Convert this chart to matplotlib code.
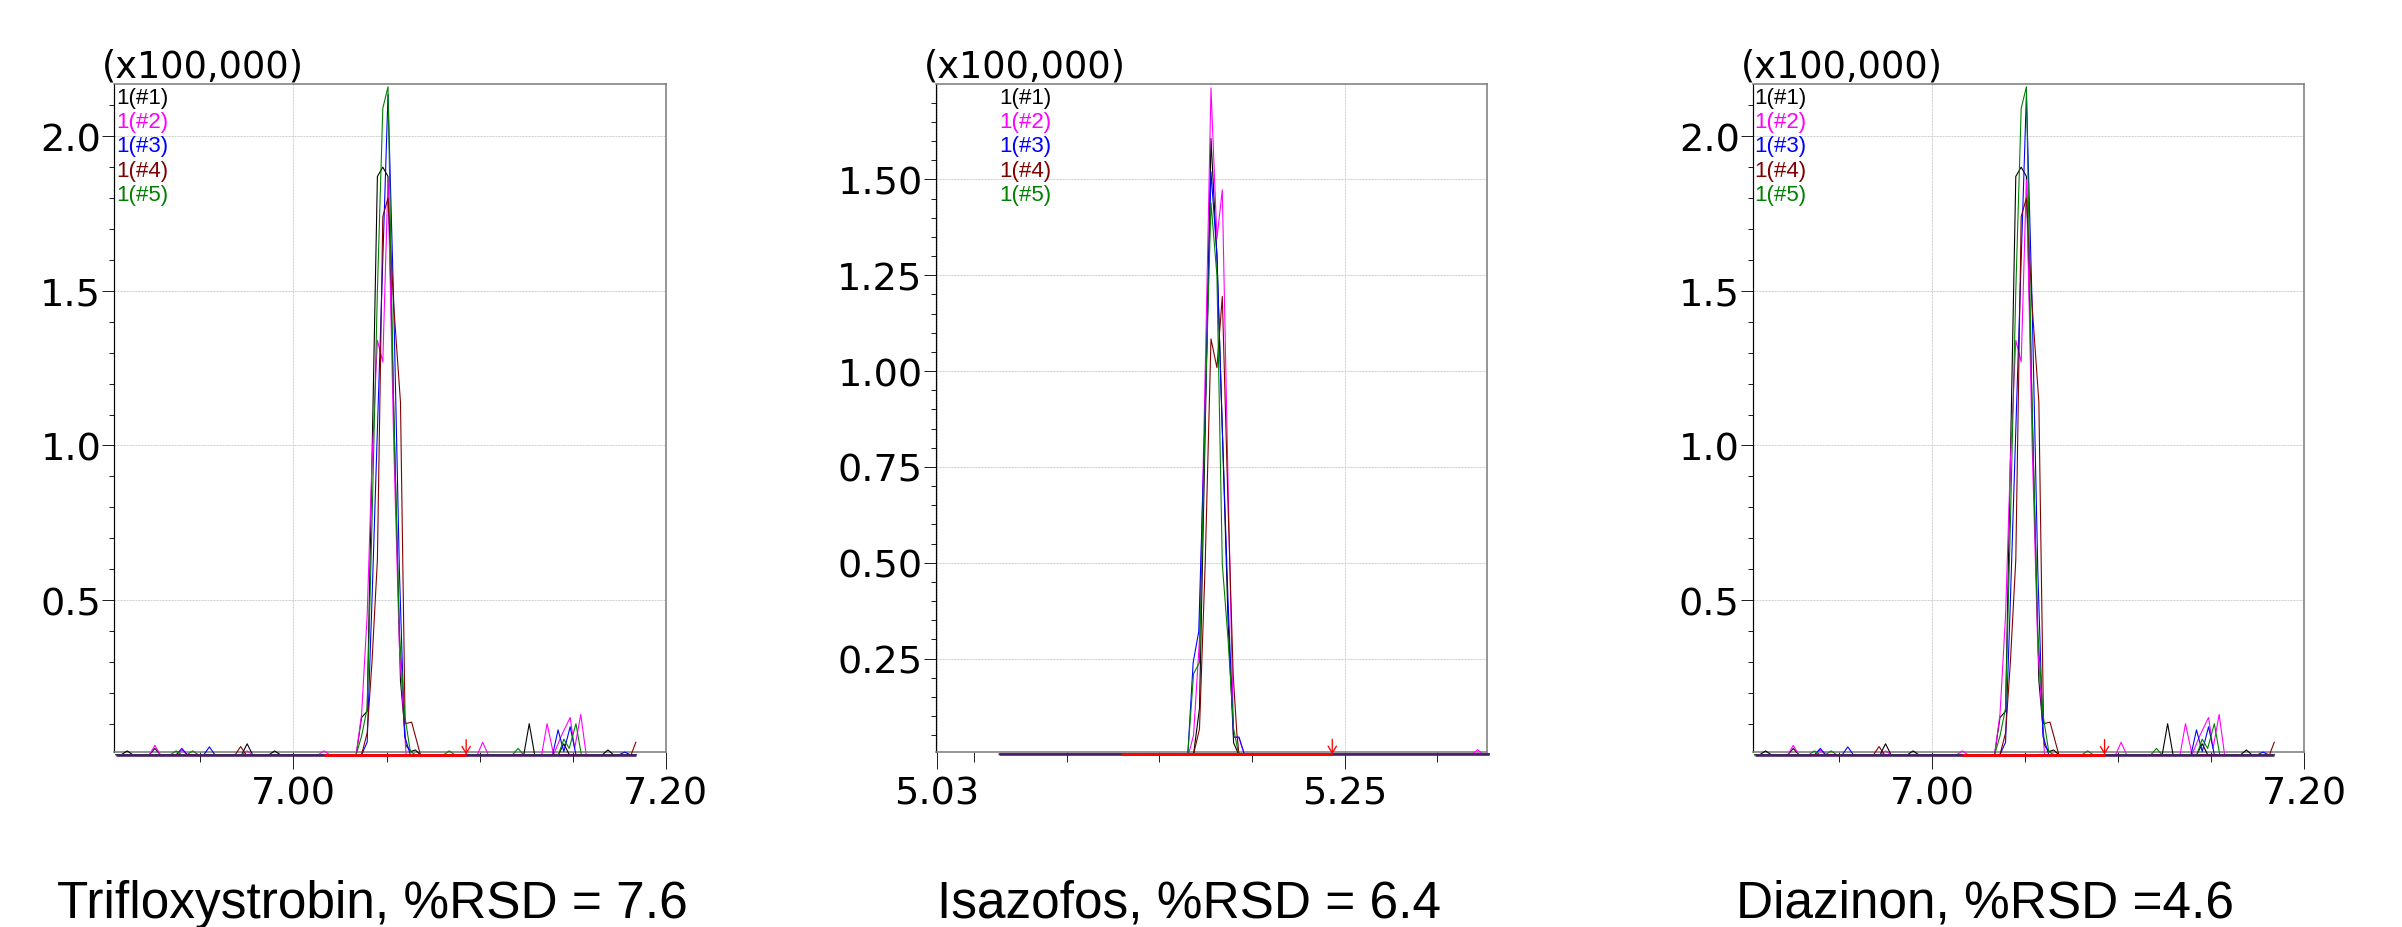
import matplotlib
matplotlib.use("Agg")
import matplotlib.pyplot as plt
import matplotlib.transforms as mtransforms
from matplotlib.ticker import FixedLocator, FixedFormatter

plt.rcParams["font.family"] = ["Liberation Sans", "DejaVu Sans"]

# ---- data (retention time in min, intensity in x100,000) ----
run_labels = ["1(#1)", "1(#2)", "1(#3)", "1(#4)", "1(#5)"]
run_colors = ["#000000", "#ff00ff", "#0000ff", "#800000", "#008000"]

# Trifloxystrobin (the Diazinon panel shows the very same traces)
tri_black_t = [6.9047, 6.9076, 6.9106, 6.9135, 6.9226, 6.9255, 6.9284, 6.9722, 6.9751, 6.9780,
               6.9870, 6.9899, 6.9928, 7.0337, 7.0366, 7.0396, 7.0451, 7.0480, 7.0508, 7.0575,
               7.0605, 7.0630, 7.0655, 7.0681, 7.1238, 7.1267, 7.1296, 7.1424, 7.1453, 7.1482,
               7.1661, 7.1690, 7.1719, 7.1840]
tri_black_v = [0, 0, 0.012, 0, 0, 0.02, 0, 0, 0.035, 0,
               0, 0.012, 0, 0, 0.12, 0.14, 1.87, 1.90, 1.87, 0.24,
               0.03, 0.01, 0.015, 0, 0, 0.10, 0, 0, 0.035, 0,
               0, 0.015, 0, 0]
tri_magenta_t = [6.9047, 6.9226, 6.9255, 6.9284, 6.9371, 6.9400, 6.9429, 6.9722, 6.9751, 6.9780,
                 7.0135, 7.0164, 7.0193, 7.0337, 7.0366, 7.0396, 7.0422, 7.0451, 7.0480, 7.0508,
                 7.0539, 7.0569, 7.0590, 7.0605, 7.0988, 7.1017, 7.1046, 7.1334, 7.1363, 7.1398,
                 7.1439, 7.1487, 7.1511, 7.1544, 7.1573, 7.1840]
tri_magenta_v = [0, 0, 0.03, 0, 0, 0.015, 0, 0, 0.012, 0,
                 0, 0.012, 0, 0, 0.13, 0.45, 0.95, 1.34, 1.27, 1.86,
                 1.0, 0.35, 0.15, 0, 0, 0.04, 0, 0, 0.10, 0,
                 0.06, 0.12, 0.02, 0.13, 0, 0]
tri_blue_t = [6.9047, 6.9371, 6.9400, 6.9429, 6.9519, 6.9548, 6.9577, 7.0366, 7.0396, 7.0422,
              7.0451, 7.0480, 7.0508, 7.0539, 7.0569, 7.0597, 7.0628, 7.1393, 7.1422, 7.1453,
              7.1487, 7.1518, 7.1751, 7.1780, 7.1809, 7.1840]
tri_blue_v = [0, 0, 0.02, 0, 0, 0.025, 0, 0, 0.04, 0.5,
              1.05, 1.6, 2.135, 1.45, 0.6, 0.06, 0, 0, 0.08, 0.01,
              0.09, 0, 0, 0.008, 0, 0]
tri_brown_t = [6.9047, 6.9687, 6.9716, 6.9745, 7.0366, 7.0396, 7.0422, 7.0451, 7.0480, 7.0508,
               7.0539, 7.0575, 7.0600, 7.0635, 7.0682, 7.1815, 7.1840]
tri_brown_v = [0, 0, 0.026, 0, 0, 0.07, 0.3, 0.63, 1.74, 1.80,
               1.45, 1.14, 0.10, 0.105, 0, 0, 0.04]
tri_green_t = [6.9047, 6.9340, 6.9369, 6.9398, 6.9429, 6.9458, 6.9487, 7.0337, 7.0366, 7.0396,
               7.0422, 7.0451, 7.0480, 7.0508, 7.0539, 7.0569, 7.0597, 7.0628, 7.0655, 7.0808,
               7.0837, 7.0866, 7.1178, 7.1207, 7.1236, 7.1424, 7.1453, 7.1482, 7.1518, 7.1547,
               7.1840]
tri_green_v = [0, 0, 0.012, 0, 0, 0.012, 0, 0, 0.06, 0.15,
               0.75, 1.5, 2.09, 2.16, 1.1, 0.4, 0.13, 0.01, 0, 0,
               0.012, 0, 0, 0.02, 0, 0, 0.05, 0.02, 0.10, 0,
               0]
tri_integration = [7.0164, 7.0928]

# Isazofos
iso_black_t = [5.0638, 5.1685, 5.1717, 5.1748, 5.1779, 5.1811, 5.1840, 5.1871, 5.1901, 5.1928, 5.3280]
iso_black_v = [0, 0, 0.12, 0.85, 1.607, 1.30, 0.85, 0.35, 0.03, 0, 0]
iso_magenta_t = [5.0638, 5.1658, 5.1685, 5.1717, 5.1748, 5.1779, 5.1811, 5.1840, 5.1871, 5.1901,
                 5.1930, 5.1959, 5.3188, 5.3217, 5.3246, 5.3280]
iso_magenta_v = [0, 0, 0.05, 0.3, 1.0, 1.739, 1.346, 1.473, 0.71, 0.045,
                 0.043, 0, 0, 0.012, 0, 0]
iso_blue_t = [5.0638, 5.1654, 5.1683, 5.1713, 5.1748, 5.1779, 5.1811, 5.1840, 5.1871, 5.1901,
              5.1930, 5.1959, 5.3280]
iso_blue_v = [0, 0, 0.24, 0.32, 0.9, 1.52, 1.305, 0.85, 0.4, 0.045,
              0.045, 0, 0]
iso_brown_t = [5.0638, 5.1685, 5.1717, 5.1748, 5.1779, 5.1811, 5.1840, 5.1871, 5.1899, 5.1918,
               5.1930, 5.3280]
iso_brown_v = [0, 0, 0.066, 0.5, 1.084, 1.009, 1.195, 0.65, 0.205, 0.058,
               0, 0]
iso_green_t = [5.0638, 5.1654, 5.1685, 5.1717, 5.1748, 5.1779, 5.1811, 5.1840, 5.1871, 5.1901,
               5.1928, 5.3280]
iso_green_v = [0, 0, 0.21, 0.24, 0.9, 1.439, 1.25, 0.497, 0.3, 0.067,
               0, 0]
iso_integration = [5.1296, 5.2433]

tri_traces = [(tri_black_t, tri_black_v), (tri_magenta_t, tri_magenta_v), (tri_blue_t, tri_blue_v),
              (tri_brown_t, tri_brown_v), (tri_green_t, tri_green_v)]
iso_traces = [(iso_black_t, iso_black_v), (iso_magenta_t, iso_magenta_v), (iso_blue_t, iso_blue_v),
              (iso_brown_t, iso_brown_v), (iso_green_t, iso_green_v)]

tri_xticks, tri_xlabels, tri_xminor = [7.00, 7.20], ["7.00", "7.20"], [6.95, 7.05, 7.10, 7.15]
tri_yticks, tri_ylabels = [0.5, 1.0, 1.5, 2.0], ["0.5", "1.0", "1.5", "2.0"]
tri_yminor = [0.1, 0.2, 0.3, 0.4, 0.6, 0.7, 0.8, 0.9, 1.1, 1.2, 1.3, 1.4, 1.6, 1.7, 1.8, 1.9, 2.1]
iso_xticks, iso_xlabels, iso_xminor = [5.03, 5.25], ["5.03", "5.25"], [5.05, 5.10, 5.15, 5.20, 5.30]
iso_yticks = [0.25, 0.50, 0.75, 1.00, 1.25, 1.50]
iso_ylabels = ["0.25", "0.50", "0.75", "1.00", "1.25", "1.50"]
iso_yminor = [0.05, 0.10, 0.15, 0.20, 0.30, 0.35, 0.40, 0.45, 0.55, 0.60, 0.65, 0.70,
              0.80, 0.85, 0.90, 0.95, 1.05, 1.10, 1.15, 1.20, 1.30, 1.35, 1.40, 1.45, 1.55,
              1.60, 1.65, 1.70]

titles = ["Trifloxystrobin, %RSD = 7.6", "Isazofos, %RSD = 6.4", "Diazinon, %RSD =4.6"]

# ---- layout (pixels of the 2402x928 canvas) ----
W, H, DPI = 2402, 928, 100
PX = 72 / DPI  # points per pixel
AX_TOP, AX_BOT, AX_W = 85.3, 752.7, 551.5
AX_LEFTS = [114.3, 935.6, 1752.7]
TITLE_X = [57, 937, 1736]
# the chromatogram lettering is a bit wider than Arial, DejaVu matches its extents
CHROM_FONT = "DejaVu Sans"

fig = plt.figure(figsize=(W / DPI, H / DPI), dpi=DPI)


def draw_panel(ax, traces, integ, xlim, ylim, xt, xl, xm, yt, yl, ym):
    for (t, v), c in zip(traces, run_colors):
        ax.plot(t, v, color=c, lw=1.1 * PX, clip_on=False, zorder=3)
    t0 = min(t[0] for t, _ in traces)
    t1 = max(t[-1] for t, _ in traces)
    # merged baseline of all runs and the red integration baseline
    ax.plot([t0, t1], [0, 0], color="#4b1a6e", lw=2.6 * PX, clip_on=False,
            zorder=4, solid_capstyle="butt")
    ax.plot(integ, [0, 0], color="#ff0000", lw=2.8 * PX, clip_on=False,
            zorder=5, solid_capstyle="butt")
    ax.annotate("", xy=(integ[1], 0), xytext=(0, 15), textcoords="offset pixels",
                arrowprops=dict(arrowstyle="->,head_length=0.5,head_width=0.3",
                                color="#ff0000", lw=1.3 * PX, shrinkA=0, shrinkB=0),
                annotation_clip=False, zorder=6)

    ax.set_xlim(*xlim)
    ax.set_ylim(*ylim)
    ax.xaxis.set_major_locator(FixedLocator(xt))
    ax.xaxis.set_major_formatter(FixedFormatter(xl))
    ax.xaxis.set_minor_locator(FixedLocator(xm))
    ax.yaxis.set_major_locator(FixedLocator(yt))
    ax.yaxis.set_major_formatter(FixedFormatter(yl))
    ax.yaxis.set_minor_locator(FixedLocator(ym))
    ax.tick_params(axis="x", which="major", direction="out", length=17 * PX, width=1 * PX,
                   pad=7 * PX, labelsize=27.5, color="#222222")
    ax.tick_params(axis="x", which="minor", direction="out", length=10 * PX, width=1 * PX,
                   color="#222222")
    ax.tick_params(axis="y", which="major", direction="out", length=12 * PX, width=1 * PX,
                   pad=1 * PX, labelsize=27.5, color="#222222")
    ax.tick_params(axis="y", which="minor", direction="out", length=5 * PX, width=1 * PX,
                   color="#222222")
    for lab in ax.get_xticklabels() + ax.get_yticklabels():
        lab.set_fontfamily(CHROM_FONT)
    ax.grid(True, which="major", color="#d0d0d0", lw=1 * PX, ls=(0, (2, 1)))
    ax.set_axisbelow(True)

    for side in ["top", "right", "bottom"]:
        ax.spines[side].set_color("#7f7f7f")
        ax.spines[side].set_linewidth(1.6 * PX)
    ax.spines["left"].set_color("#000000")
    ax.spines["left"].set_linewidth(1.2 * PX)

    # run labels in the top-left corner, starting where the traces start
    trans = mtransforms.blended_transform_factory(ax.transData, ax.transAxes)
    for i, (lab, c) in enumerate(zip(run_labels, run_colors)):
        ax.text(t0, 0.9805 - i * 0.0364, lab, transform=trans, color=c, fontsize=16,
                ha="left", va="center")

    ax.text(-0.0218, 1.0279, "(x100,000)", transform=ax.transAxes, fontsize=26.5,
            family=CHROM_FONT, ha="left", va="center")


panels = [
    (tri_traces, tri_integration, (6.9037, 7.2001), (0.0094, 2.168),
     tri_xticks, tri_xlabels, tri_xminor, tri_yticks, tri_ylabels, tri_yminor),
    (iso_traces, iso_integration, (5.0294, 5.3268), (0.0068, 1.7484),
     iso_xticks, iso_xlabels, iso_xminor, iso_yticks, iso_ylabels, iso_yminor),
    (tri_traces, tri_integration, (6.9037, 7.2001), (0.0094, 2.168),
     tri_xticks, tri_xlabels, tri_xminor, tri_yticks, tri_ylabels, tri_yminor),
]

for left, tx, title, p in zip(AX_LEFTS, TITLE_X, titles, panels):
    ax = fig.add_axes([left / W, 1 - AX_BOT / H, AX_W / W, (AX_BOT - AX_TOP) / H])
    draw_panel(ax, *p)
    fig.text(tx / W, 1 - 918 / H, title, fontsize=37, ha="left", va="baseline")

fig.savefig("out.png", dpi=DPI)
